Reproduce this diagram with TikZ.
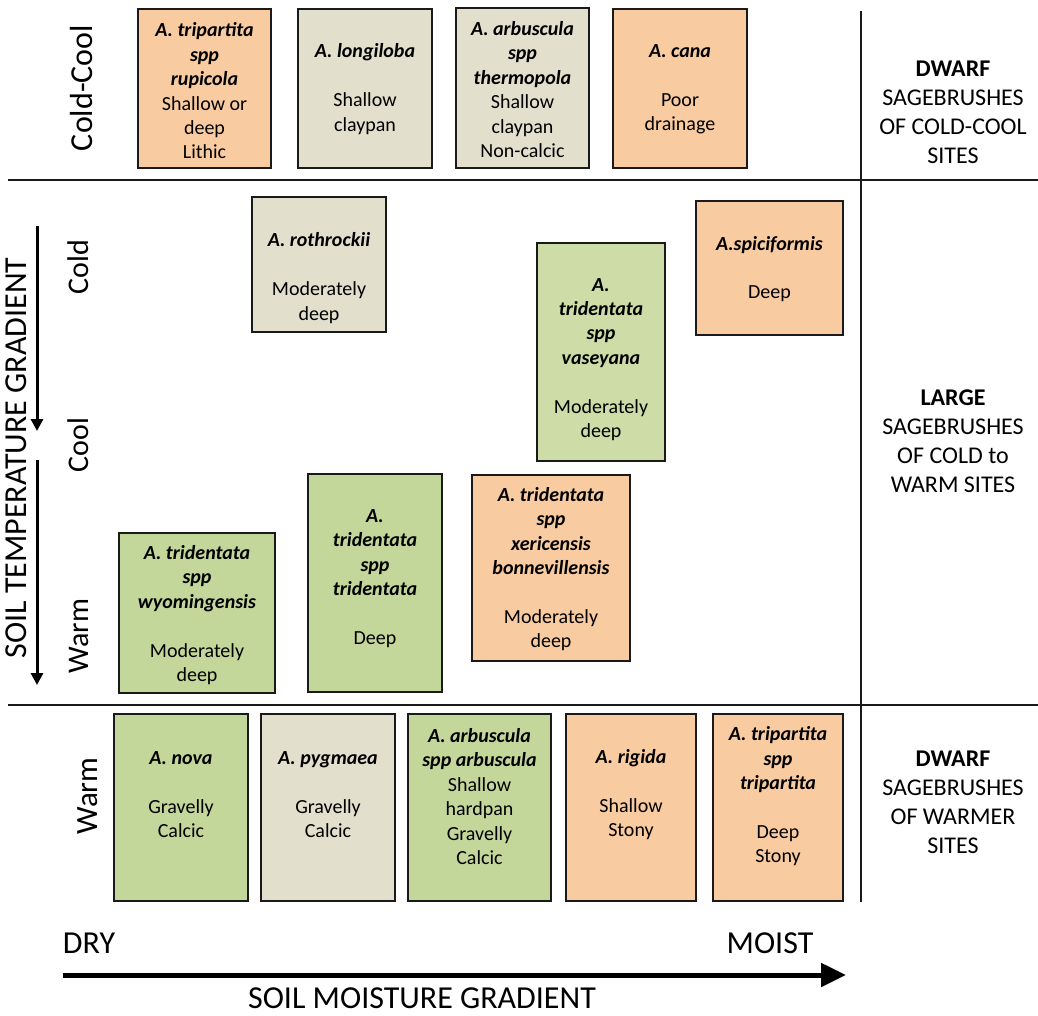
\documentclass[tikz,border=0pt]{standalone}
\usepackage{fontspec}
\setmainfont{Carlito}
\usetikzlibrary{arrows.meta}
\definecolor{orng}{HTML}{F9CBA1}
\definecolor{beig}{HTML}{E2DFCC}
\definecolor{grn}{HTML}{C4D79B}
\definecolor{lgrn}{HTML}{CEDCA8}
\definecolor{edge}{HTML}{1A1A1A}
\newcommand\spn[1]{\textbf{\textit{#1}}}
\newcommand\spbox[8]{%
  \node[sbx, fill=#6, minimum width={#4-#2}, minimum height={#5-#3}] (#1) at ({(#2+#4)/2},{(#3+#5)/2}) {};
  \node[btxt] (#1t) at ({(#2+#4)/2},#7) {#8};}
\begin{document}
\begin{tikzpicture}[x=1pt,y=-1pt,
  sbx/.style={draw=edge, line width=1.8pt, inner sep=0pt},
  btxt/.style={align=center, font=\fontsize{20}{24.4}\selectfont, inner sep=0pt},
  side/.style={rotate=90, anchor=base, inner sep=0pt, font=\fontsize{30}{36}\selectfont},
  rlab/.style={align=center, font=\fontsize{24}{29}\selectfont, inner sep=0pt},
  blab/.style={inner sep=0pt, font=\fontsize{32}{38}\selectfont},
  rule/.style={line width=2pt, draw=edge},
  garrow/.style={line width=3pt, -{Triangle[length=12pt,width=12pt]}},
  marrow/.style={line width=5pt, -{Triangle[length=25pt,width=23pt]}}]
\useasboundingbox (0,0) rectangle (1038,1015);
% frame lines
\coordinate (h1l) at (8,180); \coordinate (h1r) at (1038,180);
\coordinate (h2l) at (8,705); \coordinate (h2r) at (1038,705);
\coordinate (vt) at (861,11); \coordinate (vb) at (861,902);
\draw[rule] (h1l) -- (h1r);
\draw[rule] (h2l) -- (h2r);
\draw[rule] (vt) -- (vb);
% top row
\spbox{rupi}{138}{9}{271}{168}{orng}{91}{\spn{A. tripartita}\\\spn{spp}\\\spn{rupicola}\\Shallow or\\deep\\Lithic}
\spbox{long}{298}{9}{432}{168}{beig}{89}{\spn{A. longiloba}\\\mbox{}\\Shallow\\claypan}
\spbox{therm}{456}{8}{589}{168}{beig}{89.5}{\spn{A. arbuscula}\\\spn{spp}\\\spn{thermopola}\\Shallow\\claypan\\Non-calcic}
\spbox{cana}{613}{9}{747}{168}{orng}{89.5}{\spn{A. cana}\\\mbox{}\\Poor\\drainage}
% middle
\spbox{roth}{252}{197}{386}{332}{beig}{278}{\spn{A. rothrockii}\\\mbox{}\\Moderately\\deep}
\spbox{spic}{696}{201}{843}{335}{orng}{269}{\spn{A.spiciformis}\\\mbox{}\\Deep}
\spbox{vase}{537}{243}{665}{461}{lgrn}{359.5}{\spn{A.}\\\spn{tridentata}\\\spn{spp}\\\spn{vaseyana}\\\mbox{}\\Moderately\\deep}
\spbox{wyom}{119}{533}{275}{693}{grn}{615}{\spn{A. tridentata}\\\spn{spp}\\\spn{wyomingensis}\\\mbox{}\\Moderately\\deep}
\spbox{trid}{308}{474}{442}{692}{grn}{578.5}{\spn{A.}\\\spn{tridentata}\\\spn{spp}\\\spn{tridentata}\\\mbox{}\\Deep}
\spbox{xeri}{472}{475}{630}{661}{orng}{569}{\spn{A. tridentata}\\\spn{spp}\\\spn{xericensis}\\\spn{bonnevillensis}\\\mbox{}\\Moderately\\deep}
% bottom row
\spbox{nova}{114}{714}{248}{901}{grn}{794.5}{\spn{A. nova}\\\mbox{}\\Gravelly\\Calcic}
\spbox{pygm}{261}{714}{395}{901}{beig}{794.5}{\spn{A. pygmaea}\\\mbox{}\\Gravelly\\Calcic}
\spbox{arbu}{408}{714}{551}{901}{grn}{796.5}{\spn{A. arbuscula}\\\spn{spp arbuscula}\\Shallow\\hardpan\\Gravelly\\Calcic}
\spbox{rigi}{566}{714}{696}{901}{orng}{794.5}{\spn{A. rigida}\\\mbox{}\\Shallow\\Stony}
\spbox{trip}{713}{714}{843}{901}{orng}{796.5}{\spn{A. tripartita}\\\spn{spp}\\\spn{tripartita}\\\mbox{}\\Deep\\Stony}
% side labels
\node[side, font=\fontsize{32}{38}\selectfont] (coldcool) at (92,88) {Cold-Cool};
\node[side] (cold) at (88,267) {Cold};
\node[side] (cool) at (88,445) {Cool};
\node[side] (warm1) at (88,636) {Warm};
\node[side, font=\fontsize{31}{37}\selectfont] (warm2) at (97,796) {Warm};
\node[side, font=\fontsize{32}{38}\selectfont] (stg) at (27,458) {SOIL TEMPERATURE GRADIENT};
% temperature arrows
\coordinate (ta1) at (37,226); \coordinate (tb1) at (37,431);
\coordinate (ta2) at (37,460); \coordinate (tb2) at (37,685);
\draw[garrow] (ta1) -- (tb1);
\draw[garrow] (ta2) -- (tb2);
% right labels
\node[rlab] (rtop) at (953,112) {\textbf{DWARF}\\SAGEBRUSHES\\OF COLD-COOL\\SITES};
\node[rlab] (rmid) at (953,441.5) {\textbf{LARGE}\\SAGEBRUSHES\\OF COLD to\\WARM SITES};
\node[rlab] (rbot) at (953,802) {\textbf{DWARF}\\SAGEBRUSHES\\OF WARMER\\SITES};
% moisture
\node[blab] (dry) at (89,943) {DRY};
\node[blab] (moist) at (770,943) {MOIST};
\node[blab] (smg) at (422,998) {SOIL MOISTURE GRADIENT};
\coordinate (ma) at (63,975); \coordinate (mb) at (846,975);
\draw[marrow] (ma) -- (mb);
\end{tikzpicture}
\end{document}
